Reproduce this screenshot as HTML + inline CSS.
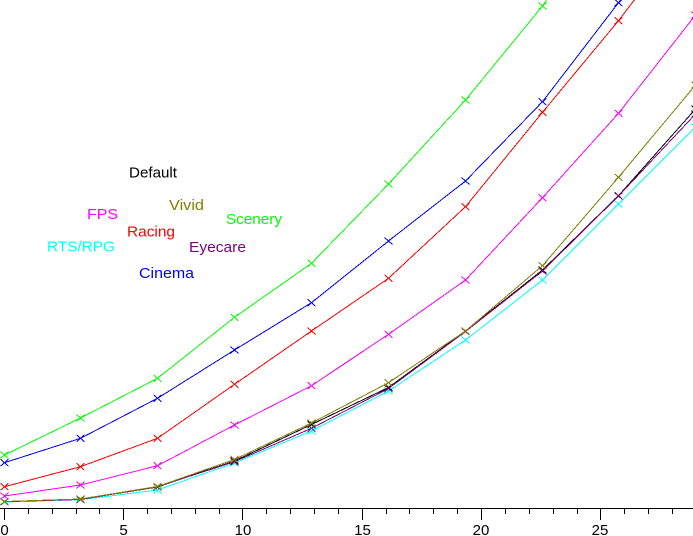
<!DOCTYPE html>
<html>
<head>
<meta charset="utf-8">
<style>
  html, body { margin: 0; padding: 0; background: #ffffff; }
  body { width: 693px; height: 536px; overflow: hidden; }
  svg { display: block; }
  text { font-family: "Liberation Sans", Arial, sans-serif; font-size: 15px; }
</style>
</head>
<body>
<svg width="693" height="536" viewBox="0 0 693 536" xmlns="http://www.w3.org/2000/svg">
  <defs>
    <marker id="mk-black" markerUnits="userSpaceOnUse" markerWidth="10" markerHeight="10" refX="5" refY="5" overflow="visible"><path d="M1 1.5L9 8.5M1 8.5L9 1.5" stroke="#000000" fill="none" shape-rendering="crispEdges"/></marker>
    <marker id="mk-cyan" markerUnits="userSpaceOnUse" markerWidth="10" markerHeight="10" refX="5" refY="5" overflow="visible"><path d="M1 1.5L9 8.5M1 8.5L9 1.5" stroke="#00ffff" fill="none" shape-rendering="crispEdges"/></marker>
    <marker id="mk-purple" markerUnits="userSpaceOnUse" markerWidth="10" markerHeight="10" refX="5" refY="5" overflow="visible"><path d="M1 1.5L9 8.5M1 8.5L9 1.5" stroke="#800080" fill="none" shape-rendering="crispEdges"/></marker>
    <marker id="mk-olive" markerUnits="userSpaceOnUse" markerWidth="10" markerHeight="10" refX="5" refY="5" overflow="visible"><path d="M1 1.5L9 8.5M1 8.5L9 1.5" stroke="#808000" fill="none" shape-rendering="crispEdges"/></marker>
    <marker id="mk-magenta" markerUnits="userSpaceOnUse" markerWidth="10" markerHeight="10" refX="5" refY="5" overflow="visible"><path d="M1 1.5L9 8.5M1 8.5L9 1.5" stroke="#ff00ff" fill="none" shape-rendering="crispEdges"/></marker>
    <marker id="mk-red" markerUnits="userSpaceOnUse" markerWidth="10" markerHeight="10" refX="5" refY="5" overflow="visible"><path d="M1 1.5L9 8.5M1 8.5L9 1.5" stroke="#ff0000" fill="none" shape-rendering="crispEdges"/></marker>
    <marker id="mk-blue" markerUnits="userSpaceOnUse" markerWidth="10" markerHeight="10" refX="5" refY="5" overflow="visible"><path d="M1 1.5L9 8.5M1 8.5L9 1.5" stroke="#0000ff" fill="none" shape-rendering="crispEdges"/></marker>
    <marker id="mk-green" markerUnits="userSpaceOnUse" markerWidth="10" markerHeight="10" refX="5" refY="5" overflow="visible"><path d="M1 1.5L9 8.5M1 8.5L9 1.5" stroke="#00ff00" fill="none" shape-rendering="crispEdges"/></marker>
  </defs>

  <!-- Axis -->
  <g stroke="#000000" stroke-width="1" shape-rendering="crispEdges" fill="none">
    <line x1="0" y1="508.5" x2="693" y2="508.5"/>
    <line x1="4.5" y1="508" x2="4.5" y2="520"/>
    <line x1="123.5" y1="508" x2="123.5" y2="520"/>
    <line x1="242.5" y1="508" x2="242.5" y2="520"/>
    <line x1="362.5" y1="508" x2="362.5" y2="520"/>
    <line x1="481.5" y1="508" x2="481.5" y2="520"/>
    <line x1="600.5" y1="508" x2="600.5" y2="520"/>
    <path d="M28.5 508V514M52.5 508V514M76.5 508V514M99.5 508V514
             M147.5 508V514M171.5 508V514M195.5 508V514M219.5 508V514
             M266.5 508V514M290.5 508V514M314.5 508V514M338.5 508V514
             M386.5 508V514M409.5 508V514M433.5 508V514M457.5 508V514
             M505.5 508V514M529.5 508V514M553.5 508V514M577.5 508V514
             M624.5 508V514M648.5 508V514M672.5 508V514"/>
  </g>
  <g fill="#000000" text-anchor="middle">
    <text x="4.5" y="535">0</text>
    <text x="123.5" y="535">5</text>
    <text x="243" y="535">10</text>
    <text x="362.5" y="535">15</text>
    <text x="481" y="535">20</text>
    <text x="600" y="535">25</text>
  </g>

  <!-- Series -->
  <g fill="none" stroke-width="1" shape-rendering="crispEdges">
    <polyline stroke="#00ffff" marker-start="url(#mk-cyan)" marker-mid="url(#mk-cyan)" marker-end="url(#mk-cyan)"
      points="4.5,502 80.5,499.7 157.5,490 234.5,463 311.5,431 388.5,391 465.5,340 542.5,280 618.5,204 695.5,127"/>
    <polyline stroke="#000000" marker-start="url(#mk-black)" marker-mid="url(#mk-black)" marker-end="url(#mk-black)"
      points="4.5,501.5 80.5,499.3 157.5,487 234.5,461 311.5,424.5 388.5,387.5 465.5,331 542.5,270 618.5,195.7 695.5,109"/>
    <polyline stroke="#800080" marker-start="url(#mk-purple)" marker-mid="url(#mk-purple)" marker-end="url(#mk-purple)"
      points="4.5,501.7 80.5,499.5 157.5,486.7 234.5,461.7 311.5,428.3 388.5,388.5 465.5,331.5 542.5,271 618.5,196 695.5,114"/>
    <polyline stroke="#808000" marker-start="url(#mk-olive)" marker-mid="url(#mk-olive)" marker-end="url(#mk-olive)"
      points="4.5,501.5 80.5,499 157.5,486.5 234.5,459.5 311.5,423 388.5,382.7 465.5,331 542.5,265.7 618.5,177.3 695.5,85"/>
    <polyline stroke="#ff00ff" marker-start="url(#mk-magenta)" marker-mid="url(#mk-magenta)" marker-end="url(#mk-magenta)"
      points="4.5,496 80.5,485 157.5,465.7 234.5,425 311.5,385.7 388.5,334.3 465.5,280 542.5,197.7 618.5,113.3 695.5,15"/>
    <polyline stroke="#ff0000" marker-start="url(#mk-red)" marker-mid="url(#mk-red)" marker-end="url(#mk-red)"
      points="4.5,486.7 80.5,466.7 157.5,438.3 234.5,384.3 311.5,331 388.5,278.3 465.5,206.7 542.5,112.3 618.5,20.7 695.5,-80"/>
    <polyline stroke="#0000ff" marker-start="url(#mk-blue)" marker-mid="url(#mk-blue)" marker-end="url(#mk-blue)"
      points="4.5,462.7 80.5,438.3 157.5,398.3 234.5,350 311.5,302.7 388.5,241 465.5,181 542.5,101.7 618.5,2.7 695.5,-105"/>
    <polyline stroke="#00ff00" marker-start="url(#mk-green)" marker-mid="url(#mk-green)" marker-end="url(#mk-green)"
      points="4.5,455 80.5,418 157.5,378.3 234.5,317.3 311.5,263.3 388.5,184 465.5,100 542.5,6 618.5,-105"/>
  </g>

  <!-- Labels -->
  <text x="129" y="177.5" fill="#000000" textLength="48" lengthAdjust="spacingAndGlyphs">Default</text>
  <text x="87" y="219" fill="#ff00ff" textLength="31" lengthAdjust="spacingAndGlyphs">FPS</text>
  <text x="169" y="210" fill="#808000" textLength="35" lengthAdjust="spacingAndGlyphs">Vivid</text>
  <text x="226" y="224" fill="#00ff00" textLength="56" lengthAdjust="spacingAndGlyphs">Scenery</text>
  <text x="127" y="236.5" fill="#ff0000" textLength="48" lengthAdjust="spacingAndGlyphs">Racing</text>
  <text x="47" y="251.5" fill="#00ffff" textLength="68" lengthAdjust="spacingAndGlyphs">RTS/RPG</text>
  <text x="189" y="252" fill="#800080" textLength="57" lengthAdjust="spacingAndGlyphs">Eyecare</text>
  <text x="139" y="278" fill="#0000ff" textLength="55" lengthAdjust="spacingAndGlyphs">Cinema</text>
</svg>
</body>
</html>
